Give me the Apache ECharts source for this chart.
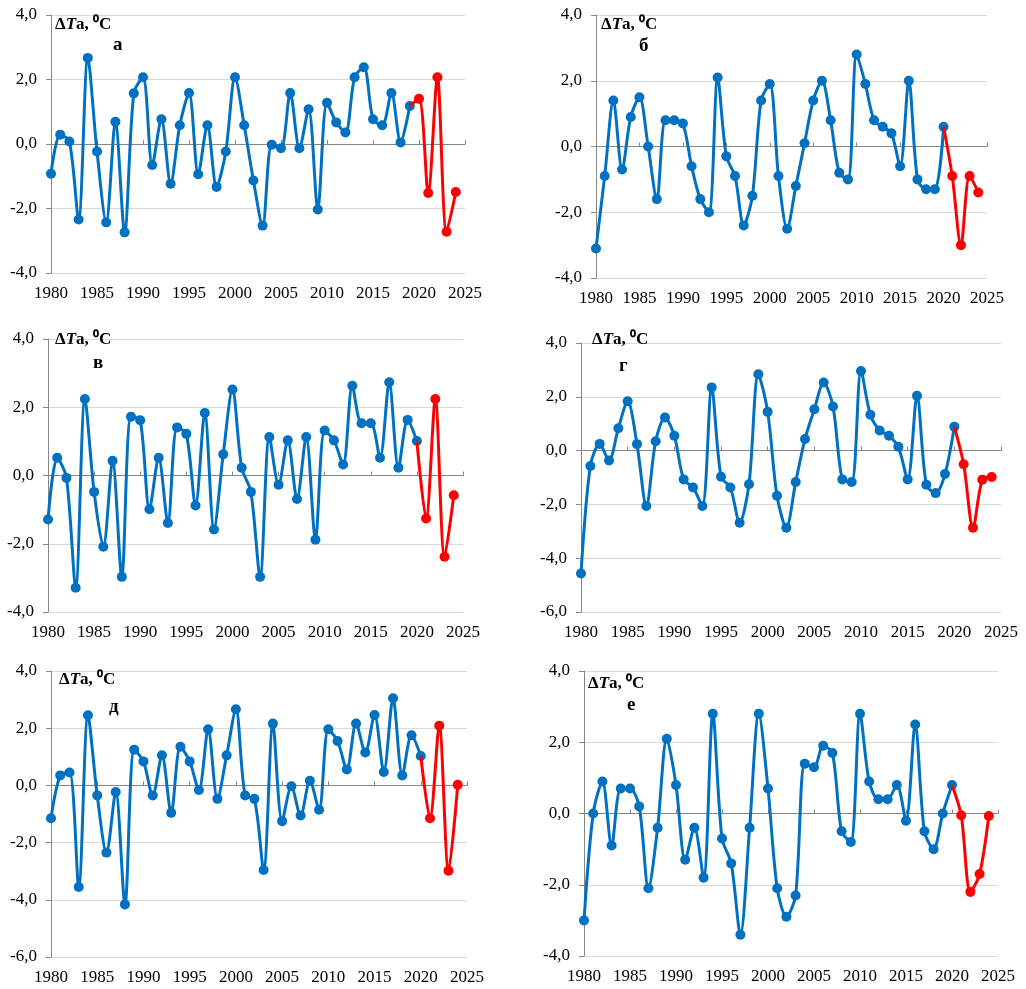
<!DOCTYPE html>
<html>
<head>
<meta charset="utf-8">
<style>
    html, body { margin: 0; padding: 0; background: #fff; }
    #chart { width: 1026px; height: 989px; }
</style>
<script src="https://cdn.jsdelivr.net/npm/echarts@6/dist/echarts.min.js"></script>
</head>
<body>
<div id="chart"></div>
<script>
// годы наблюдений
var years = [1980, 1981, 1982, 1983, 1984, 1985, 1986, 1987, 1988, 1989,
    1990, 1991, 1992, 1993, 1994, 1995, 1996, 1997, 1998, 1999,
    2000, 2001, 2002, 2003, 2004, 2005, 2006, 2007, 2008, 2009,
    2010, 2011, 2012, 2013, 2014, 2015, 2016, 2017, 2018, 2019,
    2020, 2021, 2022, 2023, 2024];

// аномалии температуры по панелям
var valuesA = [-0.92, 0.29, 0.08, -2.34, 2.67, -0.23, -2.43, 0.69, -2.74, 1.57,
    2.07, -0.65, 0.77, -1.23, 0.58, 1.58, -0.94, 0.58, -1.33, -0.23,
    2.07, 0.58, -1.13, -2.53, -0.02, -0.13, 1.58, -0.13, 1.08, -2.03,
    1.28, 0.67, 0.36, 2.07, 2.38, 0.77, 0.58, 1.58, 0.05, 1.18,
    1.40, -1.52, 2.07, -2.72, -1.49];
var valuesB = [-3.1, -0.9, 1.4, -0.7, 0.9, 1.5, 0.0, -1.6, 0.8, 0.8,
    0.7, -0.6, -1.6, -2.0, 2.1, -0.3, -0.9, -2.4, -1.5, 1.4,
    1.9, -0.9, -2.5, -1.2, 0.1, 1.4, 2.0, 0.8, -0.8, -1.0,
    2.8, 1.9, 0.8, 0.6, 0.4, -0.6, 2.0, -1.0, -1.3, -1.3,
    0.6, -0.9, -3.0, -0.9, -1.4];
var valuesV = [-1.29, 0.52, -0.07, -3.29, 2.24, -0.48, -2.09, 0.43, -2.97, 1.72,
    1.62, -0.99, 0.52, -1.39, 1.41, 1.22, -0.88, 1.83, -1.58, 0.62,
    2.52, 0.23, -0.48, -2.97, 1.13, -0.27, 1.03, -0.69, 1.13, -1.88,
    1.32, 1.03, 0.32, 2.63, 1.53, 1.53, 0.52, 2.73, 0.23, 1.63,
    1.01, -1.26, 2.24, -2.38, -0.58];
var valuesG = [-4.57, -0.57, 0.25, -0.37, 0.83, 1.83, 0.24, -2.06, 0.35, 1.23,
    0.55, -1.07, -1.37, -2.06, 2.35, -0.97, -1.37, -2.68, -1.25, 2.84,
    1.44, -1.68, -2.87, -1.17, 0.43, 1.54, 2.53, 1.64, -1.07, -1.17,
    2.96, 1.33, 0.75, 0.55, 0.14, -1.07, 2.04, -1.27, -1.58, -0.87,
    0.89, -0.51, -2.87, -1.08, -0.98];
var valuesD = [-1.15, 0.35, 0.45, -3.55, 2.45, -0.35, -2.35, -0.23, -4.16, 1.25,
    0.84, -0.35, 1.05, -0.96, 1.35, 0.84, -0.16, 1.96, -0.47, 1.05,
    2.66, -0.35, -0.47, -2.96, 2.16, -1.25, -0.03, -1.05, 0.16, -0.85,
    1.96, 1.55, 0.56, 2.16, 1.15, 2.46, 0.47, 3.05, 0.35, 1.75,
    1.03, -1.15, 2.09, -2.98, 0.02];
var valuesE = [-3.0, 0.0, 0.9, -0.9, 0.7, 0.7, 0.2, -2.1, -0.4, 2.1,
    0.8, -1.3, -0.4, -1.8, 2.8, -0.7, -1.4, -3.4, -0.4, 2.8,
    0.7, -2.1, -2.9, -2.3, 1.4, 1.3, 1.9, 1.7, -0.5, -0.8,
    2.8, 0.9, 0.4, 0.4, 0.8, -0.2, 2.5, -0.5, -1.0, 0.0,
    0.8, -0.05, -2.2, -1.7, -0.07];

// последний год синей линии и первый год красной
var blueLast = [2019, 2020, 2020, 2020, 2020, 2020];
var redFirst = [2019, 2020, 2020, 2020, 2020, 2020];
var letters = ['а', 'б', 'в', 'г', 'д', 'е'];
var yMins = [-4, -4, -4, -6, -6, -4];

var panels = [
    {values: valuesA, grid: {left: 51, top: 15, width: 414, height: 258}, title: [55, 16], letter: [113, 36]},
    {values: valuesB, grid: {left: 596, top: 15, width: 391, height: 263}, title: [601, 16], letter: [639, 37]},
    {values: valuesV, grid: {left: 48, top: 339, width: 415, height: 273}, title: [55, 331], letter: [93, 354]},
    {values: valuesG, grid: {left: 581, top: 343, width: 420, height: 269}, title: [592, 331], letter: [619, 357]},
    {values: valuesD, grid: {left: 51, top: 671, width: 416, height: 286}, title: [59, 671], letter: [109, 698]},
    {values: valuesE, grid: {left: 584, top: 671, width: 414, height: 285}, title: [588, 675], letter: [627, 696]}
];

var font = '"Liberation Serif", "Times New Roman", serif';
var grids = [], xAxes = [], yAxes = [], series = [], titles = [];

panels.forEach(function (p, i) {
    grids.push(p.grid);

    // подписи лет внизу
    xAxes.push({
        gridIndex: i, type: 'value', min: 1980, max: 2025, interval: 5,
        axisLine: {show: false, onZero: false}, axisTick: {show: false}, splitLine: {show: false},
        axisLabel: {
            color: '#000', fontFamily: font, fontSize: 17, margin: 12,
            formatter: function (v) { return String(v); }
        }
    });
    // ось на нуле с рисками
    xAxes.push({
        gridIndex: i, type: 'value', min: 1980, max: 2025, interval: 5,
        axisLine: {show: true, onZero: true, lineStyle: {color: '#868686', width: 1}},
        axisTick: {show: true, inside: false, length: 4, lineStyle: {color: '#868686'}},
        axisLabel: {show: false}, splitLine: {show: false}
    });
    yAxes.push({
        gridIndex: i, type: 'value', min: yMins[i], max: 4, interval: 2,
        axisLine: {show: true, lineStyle: {color: '#868686', width: 1}},
        axisTick: {show: true, length: 5, lineStyle: {color: '#868686'}},
        splitLine: {lineStyle: {color: '#d9d9d9', width: 1}},
        axisLabel: {
            color: '#000', fontFamily: font, fontSize: 17, margin: 14,
            formatter: function (v) { return v.toFixed(1).replace('.', ','); }
        }
    });

    var blue = [], red = [];
    years.forEach(function (y, k) {
        if (y <= blueLast[i]) blue.push([y, p.values[k]]);
        if (y >= redFirst[i]) red.push([y, p.values[k]]);
    });
    var lim = blueLast[i];

    series.push({
        type: 'line', xAxisIndex: 2 * i, yAxisIndex: i, data: blue, smooth: 0.3,
        symbol: 'circle', symbolSize: 10, z: 3,
        lineStyle: {color: '#0070C0', width: 3}, itemStyle: {color: '#0070C0'}
    });
    series.push({
        type: 'line', xAxisIndex: 2 * i, yAxisIndex: i, data: red, smooth: 0.3,
        symbol: 'circle', z: 4,
        symbolSize: function (v) { return v[0] <= lim ? 0 : 10; },
        lineStyle: {color: '#FF0000', width: 3}, itemStyle: {color: '#FF0000'}
    });

    titles.push({
        left: p.title[0], top: p.title[1],
        text: '{b|Δ}{i|T}{b|a, ⁰C}',
        textStyle: {
            rich: {
                b: {fontFamily: font, fontSize: 17, fontWeight: 'bold', color: '#000'},
                i: {fontFamily: font, fontSize: 17, fontWeight: 'bold', fontStyle: 'italic', color: '#000'}
            }
        },
        padding: 0
    });
    titles.push({
        left: p.letter[0], top: p.letter[1], text: letters[i], padding: 0,
        textStyle: {fontFamily: font, fontSize: 19, fontWeight: 'bold', color: '#000'}
    });
});

var myChart = echarts.init(document.getElementById('chart'));
myChart.setOption({
    animation: false,
    backgroundColor: '#fff',
    title: titles,
    grid: grids,
    xAxis: xAxes,
    yAxis: yAxes,
    series: series
});
</script>
</body>
</html>
